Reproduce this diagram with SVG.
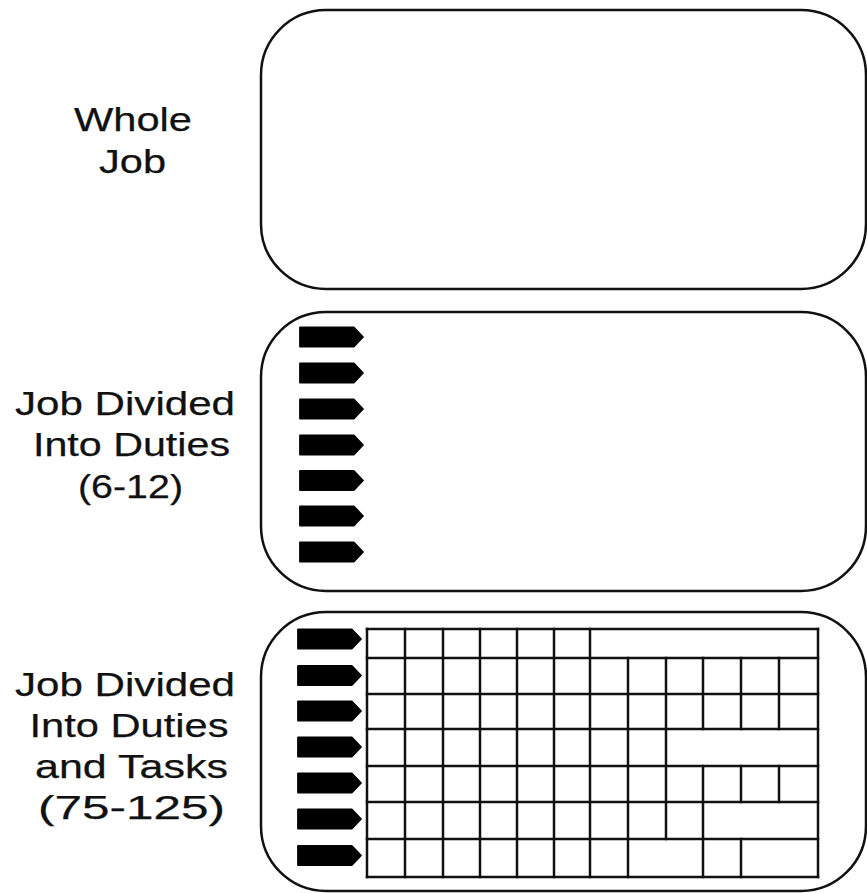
<svg xmlns="http://www.w3.org/2000/svg" xmlns:xlink="http://www.w3.org/1999/xlink" width="867" height="893" viewBox="0 0 867 893">
<style>
.box{fill:#fff;stroke:#111;stroke-width:2.5}
.lbl{font-family:"Liberation Sans",Arial,Helvetica,sans-serif;font-size:34px;fill:#111;stroke:#111;stroke-width:0.25;text-anchor:middle}
.grid line{stroke:#111;stroke-width:2.5;stroke-linecap:square}
.duty{fill:#000;stroke:#000;stroke-width:1.8;stroke-linejoin:round}
</style>
<defs>
<path id="duty" class="duty" d="M0,-9.5 L54,-9.5 L63,0 L54,9.5 L0,9.5 Z"/>
</defs>
<rect width="867" height="893" fill="#fff"/>
<g id="whole-job">
<rect class="box" x="261" y="10" width="605" height="279" rx="65" ry="65"/>
<text class="lbl" x="133" y="131" textLength="118" lengthAdjust="spacingAndGlyphs">Whole</text>
<text class="lbl" x="132.5" y="173" textLength="67" lengthAdjust="spacingAndGlyphs">Job</text>
</g>
<g id="job-duties">
<rect class="box" x="261" y="312" width="605" height="279" rx="65" ry="65"/>
<text class="lbl" x="125" y="415" textLength="220" lengthAdjust="spacingAndGlyphs">Job Divided</text>
<text class="lbl" x="131.5" y="456" textLength="197" lengthAdjust="spacingAndGlyphs">Into Duties</text>
<text class="lbl" x="130.5" y="498" textLength="105" lengthAdjust="spacingAndGlyphs">(6-12)</text>
<g transform="translate(300,0)">
<use xlink:href="#duty" y="337"/>
<use xlink:href="#duty" y="373"/>
<use xlink:href="#duty" y="409"/>
<use xlink:href="#duty" y="445"/>
<use xlink:href="#duty" y="480.5"/>
<use xlink:href="#duty" y="516"/>
<use xlink:href="#duty" y="552"/>
</g>
</g>
<g id="job-duties-tasks">
<rect class="box" x="261" y="612" width="605" height="279" rx="65" ry="65"/>
<text class="lbl" x="125" y="696" textLength="220" lengthAdjust="spacingAndGlyphs">Job Divided</text>
<text class="lbl" x="129" y="737" textLength="199" lengthAdjust="spacingAndGlyphs">Into Duties</text>
<text class="lbl" x="131.5" y="778" textLength="193" lengthAdjust="spacingAndGlyphs">and Tasks</text>
<text class="lbl" x="131.5" y="819" textLength="187" lengthAdjust="spacingAndGlyphs">(75-125)</text>
<g transform="translate(298,0)">
<use xlink:href="#duty" y="639"/>
<use xlink:href="#duty" y="675.5"/>
<use xlink:href="#duty" y="711"/>
<use xlink:href="#duty" y="747"/>
<use xlink:href="#duty" y="783"/>
<use xlink:href="#duty" y="819"/>
<use xlink:href="#duty" y="855.5"/>
</g>
<g class="grid">
<line x1="367" y1="629" x2="818" y2="629"/>
<line x1="367" y1="658" x2="818" y2="658"/>
<line x1="367" y1="694" x2="818" y2="694"/>
<line x1="367" y1="729" x2="818" y2="729"/>
<line x1="367" y1="766" x2="818" y2="766"/>
<line x1="367" y1="802" x2="818" y2="802"/>
<line x1="367" y1="839" x2="818" y2="839"/>
<line x1="367" y1="877" x2="818" y2="877"/>
<line x1="367" y1="629" x2="367" y2="877"/>
<line x1="405" y1="629" x2="405" y2="877"/>
<line x1="443" y1="629" x2="443" y2="877"/>
<line x1="480" y1="629" x2="480" y2="877"/>
<line x1="517" y1="629" x2="517" y2="877"/>
<line x1="554" y1="629" x2="554" y2="877"/>
<line x1="590" y1="629" x2="590" y2="877"/>
<line x1="818" y1="629" x2="818" y2="877"/>
<line x1="628" y1="658" x2="628" y2="877"/>
<line x1="666" y1="658" x2="666" y2="839"/>
<line x1="703" y1="658" x2="703" y2="729"/>
<line x1="703" y1="766" x2="703" y2="877"/>
<line x1="741" y1="658" x2="741" y2="729"/>
<line x1="741" y1="766" x2="741" y2="802"/>
<line x1="741" y1="839" x2="741" y2="877"/>
<line x1="779" y1="658" x2="779" y2="729"/>
<line x1="779" y1="766" x2="779" y2="802"/>
</g>
</g>
</svg>
